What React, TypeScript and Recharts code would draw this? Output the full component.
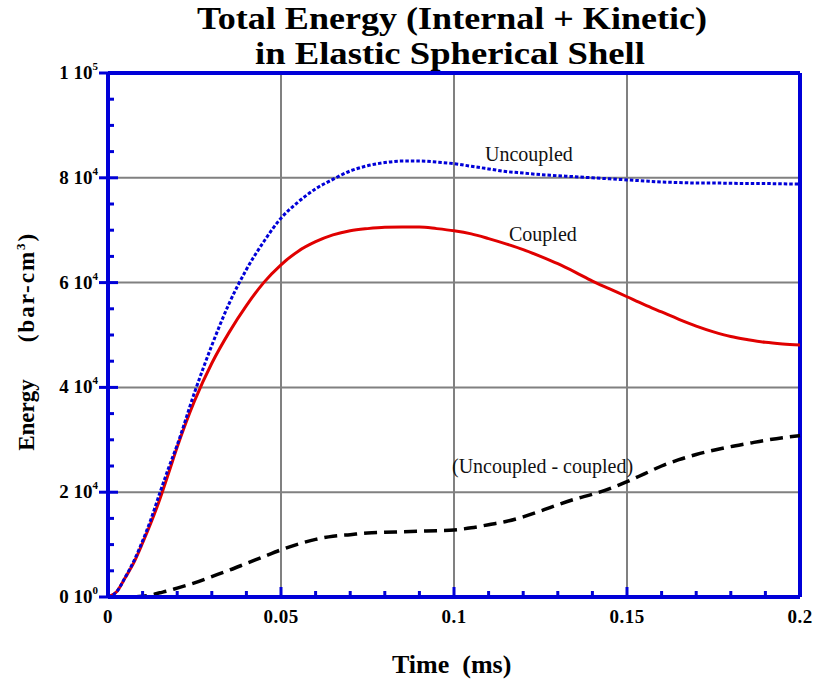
import React from "react";
import { CartesianGrid, Line, LineChart, ReferenceLine, XAxis, YAxis } from "recharts";

// time (ms)
const time = [
  0, 0.0025, 0.005, 0.0075, 0.01, 0.0125, 0.015, 0.0175, 0.02, 0.025, 0.03, 0.035, 0.04, 0.045,
  0.05, 0.055, 0.06, 0.065, 0.07, 0.075, 0.08, 0.085, 0.09, 0.095, 0.1, 0.105, 0.11, 0.115, 0.12,
  0.125, 0.13, 0.135, 0.14, 0.145, 0.15, 0.155, 0.16, 0.165, 0.17, 0.175, 0.18, 0.185, 0.19, 0.195,
  0.2,
];

// energy (bar-cm3)
const uncoupled = [
  0, 1000, 3800, 6900, 10700, 15000, 19900, 24600, 29000, 39000, 48000, 56000, 62500, 67800,
  72300, 75400, 77900, 79700, 81300, 82300, 82900, 83200, 83200, 83000, 82700, 82200, 81700, 81200,
  80900, 80600, 80400, 80200, 80000, 79800, 79600, 79400, 79200, 79100, 79000, 79000, 78950, 78900,
  78900, 78850, 78800,
];

const coupled = [
  0, 1000, 3700, 6600, 10300, 14300, 18700, 23600, 28600, 37400, 44600, 50500, 55600, 60000,
  63400, 66000, 67800, 69100, 69900, 70300, 70550, 70600, 70600, 70300, 69900, 69300, 68400, 67400,
  66300, 65000, 63600, 62000, 60300, 58800, 57300, 55800, 54400, 53000, 51700, 50600, 49700, 49100,
  48600, 48300, 48100,
];

const difference = [
  null, null, null, 0, 150, 400, 800, 1200, 1700, 2700, 3900, 5100, 6400, 7700,
  9000, 10100, 11000, 11600, 11900, 12200, 12350, 12450, 12550, 12650, 12800, 13200, 13800, 14400,
  15300, 16400, 17600, 18700, 19600, 20700, 22000, 23500, 25000, 26200, 27200, 28000, 28700, 29300,
  29900, 30400, 30800,
];

const xTicks = [
  0, 0.01, 0.02, 0.03, 0.04, 0.05, 0.06, 0.07, 0.08, 0.09, 0.1, 0.11, 0.12, 0.13, 0.14, 0.15, 0.16,
  0.17, 0.18, 0.19, 0.2,
];
const xMajor = [0, 0.05, 0.1, 0.15, 0.2];
const xLabels = ["0", "0.05", "0.1", "0.15", "0.2"];

const yTicks = [
  0, 5000, 10000, 15000, 20000, 25000, 30000, 35000, 40000, 45000, 50000, 55000, 60000, 65000,
  70000, 75000, 80000, 85000, 90000, 95000, 100000,
];
const yMajor = [0, 20000, 40000, 60000, 80000, 100000];
const yMantissa = ["0", "2", "4", "6", "8", "1"];
const yExponent = ["0", "4", "4", "4", "4", "5"];

const data = time.map((t, i) => ({
  t,
  uncoupled: uncoupled[i],
  coupled: coupled[i],
  difference: difference[i],
}));

const BLUE = "#0000d8";
const RED = "#e00000";
const GRID = "#808080";
const SERIF = "'Liberation Serif', 'Times New Roman', serif";

const bold = (size: number): React.CSSProperties => ({
  fontFamily: SERIF,
  fontWeight: "bold",
  fontSize: size,
});

function XTick(props: any) {
  const { x, y, payload } = props;
  const v = payload.value;
  const i = xMajor.findIndex((m) => Math.abs(m - v) < 1e-9);
  const edge = v < 1e-9 || v > 0.2 - 1e-9;
  return (
    <g>
      {!edge && (
        <line x1={x} x2={x} y1={y - 2} y2={y - (i >= 0 ? 10 : 6)} stroke={BLUE} strokeWidth={3} />
      )}
      {i >= 0 && (
        <text x={x} y={y + 26} textAnchor="middle" style={{ ...bold(19), letterSpacing: 0.5 }} fill="#000">
          {xLabels[i]}
        </text>
      )}
    </g>
  );
}

function YTick(props: any) {
  const { x, y, payload } = props;
  const i = yMajor.indexOf(payload.value);
  if (i < 0) {
    return <line x1={x + 2} x2={x + 6} y1={y} y2={y} stroke={BLUE} strokeWidth={3} />;
  }
  return (
    <g>
      <line x1={x - 9} x2={x + 10} y1={y} y2={y} stroke={BLUE} strokeWidth={3} />
      <text x={x - 10} y={y + 6} textAnchor="end" style={bold(19)} fill="#000">
        {yMantissa[i]} 10
        <tspan dy={-9} style={{ fontSize: 11 }}>
          {yExponent[i]}
        </tspan>
      </text>
    </g>
  );
}

export default function App() {
  return (
    <div style={{ position: "fixed", left: 0, top: 0, width: 816, height: 680, background: "#fff" }}>
      <LineChart
        width={816}
        height={680}
        data={data}
        margin={{ top: 73, right: 16, bottom: 43, left: 18 }}
      >
        <CartesianGrid
          horizontalValues={[20000, 40000, 60000, 80000]}
          verticalValues={[0.05, 0.1, 0.15]}
          stroke={GRID}
          strokeWidth={2}
        />
        <XAxis
          type="number"
          dataKey="t"
          domain={[0, 0.2]}
          ticks={xTicks}
          interval={0}
          height={40}
          tickSize={0}
          tickMargin={0}
          tickLine={false}
          tick={<XTick />}
          axisLine={{ stroke: BLUE, strokeWidth: 4 }}
        />
        <YAxis
          type="number"
          domain={[0, 100000]}
          ticks={yTicks}
          interval={0}
          width={90}
          tickSize={0}
          tickMargin={0}
          tickLine={false}
          tick={<YTick />}
          axisLine={{ stroke: BLUE, strokeWidth: 4 }}
        />
        <ReferenceLine y={100000} stroke={BLUE} strokeWidth={4} />
        <ReferenceLine x={0.2} stroke={BLUE} strokeWidth={4} />
        <Line
          type="monotone"
          dataKey="difference"
          stroke="#000"
          strokeWidth={3.5}
          strokeDasharray="13 7"
          dot={false}
          isAnimationActive={false}
        />
        <Line
          type="monotone"
          dataKey="coupled"
          stroke={RED}
          strokeWidth={3}
          dot={false}
          isAnimationActive={false}
        />
        <Line
          type="monotone"
          dataKey="uncoupled"
          stroke={BLUE}
          strokeWidth={3}
          strokeDasharray="3.5 2"
          dot={false}
          isAnimationActive={false}
        />
      </LineChart>
      <svg
        width={816}
        height={680}
        style={{ position: "absolute", left: 0, top: 0, pointerEvents: "none" }}
      >
        <text x={452} y={29} textAnchor="middle" style={bold(31)} fill="#000" textLength={510} lengthAdjust="spacingAndGlyphs">
          Total Energy (Internal + Kinetic)
        </text>
        <text x={450} y={63.5} textAnchor="middle" style={bold(31)} fill="#000" textLength={390} lengthAdjust="spacingAndGlyphs">
          in Elastic Spherical Shell
        </text>
        <text x={392} y={673} style={{ ...bold(26), whiteSpace: "pre" }} fill="#000">
          Time  (ms)
        </text>
        <g transform="translate(34,0) rotate(-90)">
          <text x={-415} y={0} textAnchor="middle" style={bold(23)} fill="#000">
            Energy
          </text>
          <text x={-287} y={0} textAnchor="middle" style={{ ...bold(23), letterSpacing: 2 }} fill="#000">
            (bar-cm
            <tspan dy={-9} style={{ fontSize: 13 }}>
              3
            </tspan>
            <tspan dy={9}>)</tspan>
          </text>
        </g>
        <g style={{ fontFamily: SERIF, fontSize: 20 }} fill="#111">
          <text x={485} y={161}>Uncoupled</text>
          <text x={509} y={241}>Coupled</text>
          <text x={452} y={473}>(Uncoupled - coupled)</text>
        </g>
      </svg>
    </div>
  );
}
